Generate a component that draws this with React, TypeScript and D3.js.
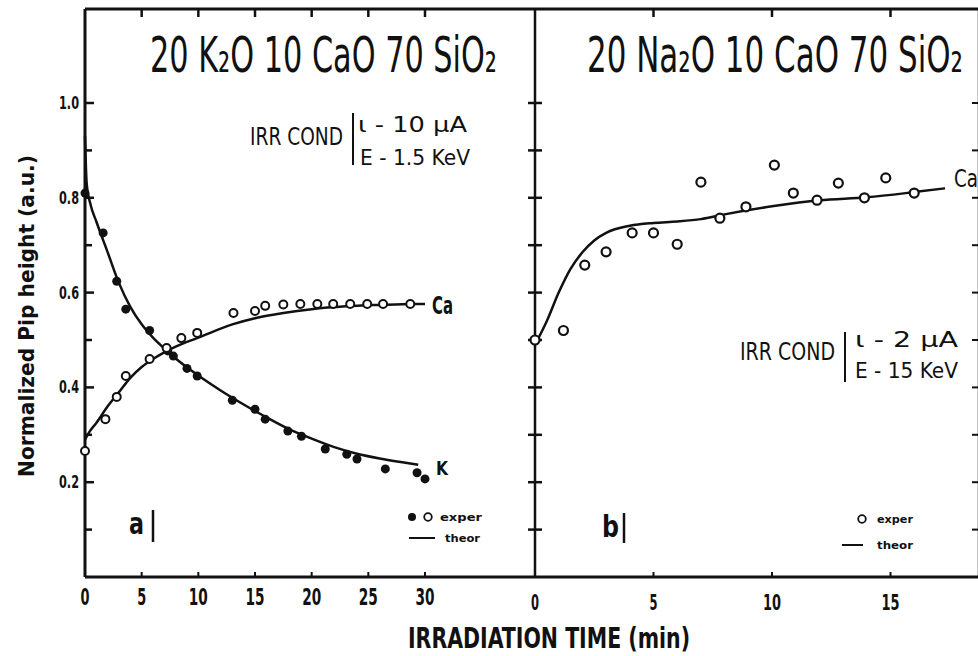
import React from "react";
import * as d3 from "d3";

// ---------- data ----------
const kTime = [0, 1.6, 2.8, 3.6, 5.7, 7.3, 7.8, 9.0, 9.9, 13.0, 15.0, 15.9, 17.9, 19.1, 21.2, 23.1, 24.0, 26.5, 29.3, 30.0];
const kValue = [0.81, 0.726, 0.624, 0.565, 0.52, 0.477, 0.466, 0.44, 0.424, 0.373, 0.354, 0.333, 0.308, 0.297, 0.27, 0.259, 0.249, 0.228, 0.22, 0.207];

const caTime = [0, 1.8, 2.8, 3.6, 5.7, 7.2, 8.5, 9.9, 13.1, 15.0, 15.9, 17.5, 19.0, 20.5, 21.9, 23.4, 24.9, 26.3, 28.7];
const caValue = [0.266, 0.333, 0.38, 0.424, 0.46, 0.483, 0.504, 0.515, 0.557, 0.561, 0.572, 0.575, 0.576, 0.576, 0.576, 0.576, 0.576, 0.576, 0.576];

const kTheoryTime = [0, 0.15, 0.5, 1, 2, 3, 4, 5, 6, 7, 8, 10, 12, 14, 16, 18, 20, 22, 24, 26, 28, 29.4];
const kTheoryValue = [0.93, 0.83, 0.785, 0.75, 0.685, 0.62, 0.57, 0.533, 0.505, 0.482, 0.461, 0.425, 0.393, 0.364, 0.337, 0.312, 0.292, 0.274, 0.26, 0.25, 0.242, 0.237];

const caTheoryTime = [0, 0.5, 1, 2, 3, 4, 5, 6, 7, 8, 10, 13, 15, 17.5, 20, 23, 26, 29, 30];
const caTheoryValue = [0.29, 0.31, 0.325, 0.36, 0.39, 0.42, 0.443, 0.46, 0.474, 0.486, 0.505, 0.533, 0.546, 0.557, 0.565, 0.571, 0.574, 0.576, 0.576];

const naCaTime = [0, 1.2, 2.1, 3.0, 4.1, 5.0, 6.0, 7.0, 7.8, 8.9, 10.1, 10.9, 11.9, 12.8, 13.9, 14.8, 16.0];
const naCaValue = [0.5, 0.52, 0.658, 0.686, 0.726, 0.726, 0.702, 0.833, 0.757, 0.781, 0.869, 0.81, 0.795, 0.831, 0.8, 0.842, 0.81];

const naTheoryTime = [0, 0.5, 1, 1.5, 2, 2.5, 3, 4, 5, 6, 7, 8, 10, 12, 14, 16, 17.3];
const naTheoryValue = [0.49, 0.54, 0.6, 0.65, 0.685, 0.71, 0.726, 0.741, 0.747, 0.75, 0.755, 0.765, 0.782, 0.795, 0.801, 0.812, 0.82];

const leftXTicks = [0, 5, 10, 15, 20, 25, 30];
const rightXTicks = [0, 5, 10, 15];
const yMajorTicks = [0.2, 0.4, 0.6, 0.8, 1.0];
const yMajorLabels = ["0.2", "0.4", "0.6", "0.8", "1.0"];
const yMinorTicks = [0.1, 0.3, 0.5, 0.7, 0.9];
const rightYTicks = [0.1, 0.2, 0.3, 0.4, 0.5, 0.6, 0.7, 0.8, 0.9, 1.0];

const titleLeft = "20 K₂O 10 CaO 70 SiO₂";
const titleRight = "20 Na₂O 10 CaO 70 SiO₂";

const FONT = "'DejaVu Sans Condensed', 'Liberation Sans Narrow', 'DejaVu Sans', sans-serif";

export default function App() {
  const W = 978, H = 656;
  const y = d3.scaleLinear().domain([0, 1]).range([577, 103]);
  const xL = d3.scaleLinear().domain([0, 30]).range([85, 425]);
  const xR = d3.scaleLinear().domain([0, 15]).range([535, 890.5]);
  const yTop = 9;
  const rightEdge = 979;

  const lineL = d3.line<[number, number]>().x(d => xL(d[0])).y(d => y(d[1])).curve(d3.curveMonotoneX);
  const lineR = d3.line<[number, number]>().x(d => xR(d[0])).y(d => y(d[1])).curve(d3.curveMonotoneX);
  const zip = (a: number[], b: number[]) => a.map((v, i) => [v, b[i]] as [number, number]);

  const ink = "#111";

  return (
    <svg width={W} height={H} style={{ position: "absolute", left: 0, top: 0, background: "#fff" }}
      fontFamily={FONT}>
      <rect x={0} y={0} width={W} height={H} fill="#fff" />
      {/* frame */}
      <line x1={xL(0)} x2={W} y1={yTop} y2={yTop} stroke={ink} strokeWidth={3} />
      <line x1={xL(0)} x2={xL(0)} y1={yTop} y2={y(0)} stroke={ink} strokeWidth={3} />
      <line x1={xL(0)} x2={W} y1={y(0)} y2={y(0)} stroke={ink} strokeWidth={3} />
      <line x1={xR(0)} x2={xR(0)} y1={yTop} y2={y(0)} stroke={ink} strokeWidth={2.5} />
      <line x1={rightEdge} x2={rightEdge} y1={yTop} y2={y(0)} stroke={ink} strokeWidth={2.5} />

      {/* left y ticks */}
      {yMajorTicks.map(t => (
        <line key={"ym" + t} x1={xL(0)} x2={xL(0) + 9} y1={y(t)} y2={y(t)} stroke={ink} strokeWidth={2.5} />
      ))}
      {yMinorTicks.map(t => (
        <line key={"yn" + t} x1={xL(0)} x2={xL(0) + 7} y1={y(t)} y2={y(t)} stroke={ink} strokeWidth={2.5} />
      ))}
      {yMajorTicks.map((t, i) => (
        <text key={"yl" + t} x={79} y={y(t) + 6} textAnchor="end" fontSize={17} fontWeight="bold"
          textLength={20} lengthAdjust="spacingAndGlyphs" fill={ink}>{yMajorLabels[i]}</text>
      ))}
      {/* right panel y ticks (crossing) */}
      {rightYTicks.map(t => (
        <line key={"ry" + t} x1={xR(0) - 7} x2={xR(0) + 7} y1={y(t)} y2={y(t)} stroke={ink} strokeWidth={2.5} />
      ))}
      {rightYTicks.map(t => (
        <line key={"rey" + t} x1={rightEdge - 7} x2={rightEdge} y1={y(t)} y2={y(t)} stroke={ink} strokeWidth={2} />
      ))}

      {/* x ticks */}
      {leftXTicks.filter(t => t > 0).map(t => (
        <g key={"lx" + t}>
          <line x1={xL(t)} x2={xL(t)} y1={y(0)} y2={y(0) - 5} stroke={ink} strokeWidth={2} />
          <line x1={xL(t)} x2={xL(t)} y1={yTop} y2={yTop + 8} stroke={ink} strokeWidth={2.5} />
        </g>
      ))}
      {rightXTicks.filter(t => t > 0).map(t => (
        <g key={"rx" + t}>
          <line x1={xR(t)} x2={xR(t)} y1={y(0)} y2={y(0) - 5} stroke={ink} strokeWidth={2} />
          <line x1={xR(t)} x2={xR(t)} y1={yTop} y2={yTop + 8} stroke={ink} strokeWidth={2.5} />
        </g>
      ))}
      {leftXTicks.map(t => (
        <text key={"lxl" + t} x={xL(t)} y={605} textAnchor="middle" fontSize={23} fontWeight="bold"
          fill={ink} textLength={t < 10 ? 9 : 19} lengthAdjust="spacingAndGlyphs">{t}</text>
      ))}
      {rightXTicks.map(t => (
        <text key={"rxl" + t} x={xR(t)} y={610} textAnchor="middle" fontSize={21} fontWeight="bold"
          fill={ink} textLength={t < 10 ? 8 : 18} lengthAdjust="spacingAndGlyphs">{t}</text>
      ))}

      {/* axis titles */}
      <text x={549} y={648} textAnchor="middle" fontSize={29} fontWeight="bold" fill={ink}
        textLength={282} lengthAdjust="spacingAndGlyphs">IRRADIATION TIME (min)</text>
      <text transform="translate(34,316) rotate(-90)" textAnchor="middle" fontSize={22} fontWeight="bold"
        fill={ink} textLength={322} lengthAdjust="spacingAndGlyphs">Normalized Pip height (a.u.)</text>

      {/* titles */}
      <text x={150} y={72} fontSize={50} fill={ink} textLength={347} lengthAdjust="spacingAndGlyphs">{titleLeft}</text>
      <text x={587} y={72} fontSize={50} fill={ink} textLength={376} lengthAdjust="spacingAndGlyphs">{titleRight}</text>

      {/* irradiation conditions */}
      <text x={250} y={145} fontSize={24} fill={ink} textLength={93} lengthAdjust="spacingAndGlyphs">IRR COND</text>
      <line x1={353} x2={353} y1={113} y2={165} stroke={ink} strokeWidth={2} />
      <text x={358} y={132} fontSize={21} fill={ink} textLength={109} lengthAdjust="spacingAndGlyphs">ι - 10  μA</text>
      <text x={360} y={165} fontSize={21} fill={ink} textLength={110} lengthAdjust="spacingAndGlyphs">E - 1.5 KeV</text>

      <text x={740} y={360} fontSize={24} fill={ink} textLength={95} lengthAdjust="spacingAndGlyphs">IRR COND</text>
      <line x1={845} x2={845} y1={332} y2={382} stroke={ink} strokeWidth={2} />
      <text x={855} y={347} fontSize={21} fill={ink} textLength={103} lengthAdjust="spacingAndGlyphs">ι -  2  μA</text>
      <text x={855} y={378} fontSize={21} fill={ink} textLength={103} lengthAdjust="spacingAndGlyphs">E - 15 KeV</text>

      {/* panel labels */}
      <text x={129} y={534} fontSize={30} fontWeight="bold" fill={ink} textLength={15} lengthAdjust="spacingAndGlyphs">a</text>
      <line x1={153} x2={153} y1={510} y2={542} stroke={ink} strokeWidth={2.5} />
      <text x={602} y={537} fontSize={30} fontWeight="bold" fill={ink} textLength={17} lengthAdjust="spacingAndGlyphs">b</text>
      <line x1={624} x2={624} y1={513} y2={543} stroke={ink} strokeWidth={2.5} />

      {/* legends */}
      <circle cx={412} cy={517} r={4} fill={ink} />
      <circle cx={428} cy={517} r={3.8} fill="none" stroke={ink} strokeWidth={1.8} />
      <text x={440} y={521} fontSize={11} fontWeight="bold" fill={ink} textLength={42} lengthAdjust="spacingAndGlyphs">exper</text>
      <line x1={409} x2={435} y1={538} y2={538} stroke={ink} strokeWidth={2} />
      <text x={445} y={542} fontSize={11} fontWeight="bold" fill={ink} textLength={35} lengthAdjust="spacingAndGlyphs">theor</text>

      <circle cx={862} cy={519} r={3.8} fill="none" stroke={ink} strokeWidth={1.8} />
      <text x={877} y={523} fontSize={11} fontWeight="bold" fill={ink} textLength={36} lengthAdjust="spacingAndGlyphs">exper</text>
      <line x1={842} x2={863} y1={545} y2={545} stroke={ink} strokeWidth={2} />
      <text x={877} y={549} fontSize={11} fontWeight="bold" fill={ink} textLength={36} lengthAdjust="spacingAndGlyphs">theor</text>

      {/* theory curves */}
      <path d={lineL(zip(kTheoryTime, kTheoryValue)) || ""} fill="none" stroke={ink} strokeWidth={2.5} />
      <path d={lineL(zip(caTheoryTime, caTheoryValue)) || ""} fill="none" stroke={ink} strokeWidth={2.5} />
      <path d={lineR(zip(naTheoryTime, naTheoryValue)) || ""} fill="none" stroke={ink} strokeWidth={2.5} />

      {/* experimental points */}
      {kTime.map((t, i) => (
        <circle key={"k" + i} cx={xL(t)} cy={y(kValue[i])} r={4.5} fill={ink} />
      ))}
      {caTime.map((t, i) => (
        <circle key={"c" + i} cx={xL(t)} cy={y(caValue[i])} r={4} fill="#fff" stroke={ink} strokeWidth={2} />
      ))}
      {naCaTime.map((t, i) => (
        <circle key={"n" + i} cx={xR(t)} cy={y(naCaValue[i])} r={4.5} fill="#fff" stroke={ink} strokeWidth={2.2} />
      ))}

      {/* curve labels */}
      <text x={432} y={314} fontSize={24} fontWeight="bold" fill={ink} textLength={21} lengthAdjust="spacingAndGlyphs">Ca</text>
      <text x={436} y={475} fontSize={20} fontWeight="bold" fill={ink} textLength={12} lengthAdjust="spacingAndGlyphs">K</text>
      <text x={954} y={187} fontSize={24} fill={ink} textLength={24} lengthAdjust="spacingAndGlyphs">Ca</text>
    </svg>
  );
}
